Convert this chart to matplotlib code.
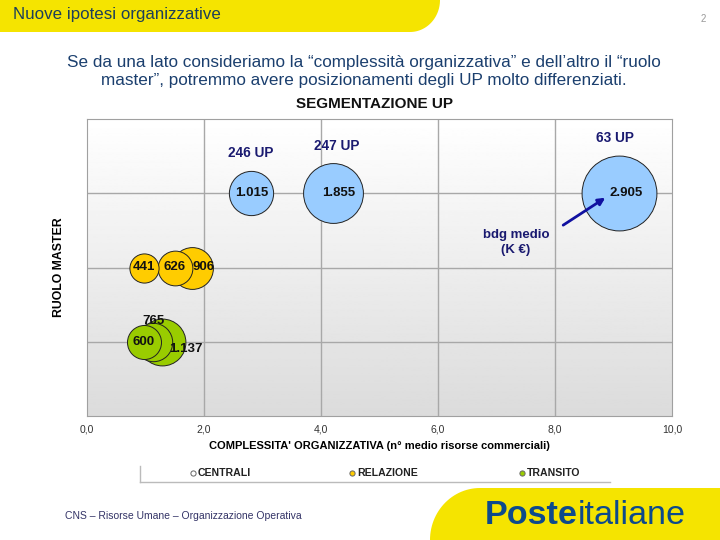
import matplotlib
matplotlib.use("Agg")
import matplotlib.pyplot as plt
import numpy as np
from matplotlib.patches import Polygon

plt.rcParams['font.family'] = ['Liberation Sans', 'DejaVu Sans']

# ---- data ----
segments = ["CENTRALI", "RELAZIONE", "TRANSITO"]
centrali_x = [2.8, 4.2, 9.1]
centrali_y = [3, 3, 3]
centrali_bdg = [1015, 1855, 2905]
centrali_up = ["246 UP", "247 UP", "63 UP"]

relazione_x = [0.97, 1.5, 1.8]
relazione_y = [2, 2, 2]
relazione_bdg = [441, 626, 906]

transito_x = [0.97, 1.13, 1.28]
transito_y = [1, 1, 1]
transito_bdg = [600, 765, 1137]

x_ticks = [0, 2, 4, 6, 8, 10]
x_ticklabels = ["0,0", "2,0", "4,0", "6,0", "8,0", "10,0"]

def fmt(v):
    return f"{v:,}".replace(",", ".")

fig = plt.figure(figsize=(7.2, 5.4), dpi=100)
W, H = 720, 540

def fx(px):
    return px / W

def fy(py):
    return 1 - py / H

# ---- header / footer shapes ----
bg = fig.add_axes([0, 0, 1, 1])
bg.set_xlim(0, W)
bg.set_ylim(H, 0)
bg.axis('off')
yellow = '#f5e400'
hdr = [(0, 0), (440, 0)]
for a in np.linspace(0, np.pi / 2, 30):
    hdr.append((410 + 30 * np.cos(a), 32 * np.sin(a)))
hdr.append((0, 32))
bg.add_patch(Polygon(hdr, closed=True, color=yellow, lw=0))
ftr = [(720, 488), (720, 540), (430, 540)]
for a in np.linspace(np.pi, np.pi / 2, 30):
    ftr.append((480 + 50 * np.cos(a), 540 - 52 * np.sin(a)))
bg.add_patch(Polygon(ftr, closed=True, color=yellow, lw=0))

fig.text(fx(13), fy(15), "Nuove ipotesi organizzative", fontsize=12.2, color='#1d3f5a', va='center', ha='left')
fig.text(fx(703), fy(19), "2", fontsize=7, color='#999999', va='center', ha='center')
fig.text(fx(364), fy(62), "Se da una lato consideriamo la “complessità organizzativa” e dell’altro il “ruolo",
         fontsize=12.3, color='#1b3f6e', ha='center', va='center')
fig.text(fx(364), fy(80), "master”, potremmo avere posizionamenti degli UP molto differenziati.",
         fontsize=12.3, color='#1b3f6e', ha='center', va='center')
fig.text(fx(375), fy(104), "SEGMENTAZIONE UP", fontsize=11, fontweight='bold', color='#111111', ha='center', va='center')

fig.text(fx(65), fy(516), "CNS – Risorse Umane – Organizzazione Operativa", fontsize=7.5, color='#333366', ha='left', va='center')
logo1 = fig.text(fx(485), fy(515), "Poste", fontsize=24.6, fontweight='bold', color='#0d4a8c', ha='left', va='center')
fig.canvas.draw()
bb = logo1.get_window_extent()
fig.text(bb.x1 / W, fy(515), "italiane", fontsize=24.6, color='#0d4a8c', ha='left', va='center')

# ---- chart ----
ax = fig.add_axes([fx(87), fy(416), 585 / W, 297 / H])
ax.set_xlim(0, 10)
ax.set_ylim(0, 4)
grad = np.linspace(0.86, 1.0, 256).reshape(-1, 1)
ax.imshow(grad, extent=[0, 10, 0, 4], origin='lower', aspect='auto', cmap='gray', vmin=0, vmax=1, zorder=0)
for gx in [2, 4, 6, 8]:
    ax.axvline(gx, color='#a8a8a8', lw=1, zorder=1)
for gy in [1, 2, 3]:
    ax.axhline(gy, color='#a8a8a8', lw=1, zorder=1)
for s in ax.spines.values():
    s.set_color('#a0a0a0')
ax.set_yticks([])
ax.set_xticks(x_ticks)
ax.set_xticklabels(x_ticklabels, fontsize=7.5, color='#333333')
ax.tick_params(axis='x', length=0, pad=6)
ax.set_xlabel("COMPLESSITA' ORGANIZZATIVA (n° medio risorse commerciali)", fontsize=8, fontweight='bold')
ax.xaxis.set_label_coords(0.5, -0.085)
ax.set_ylabel("RUOLO MASTER", fontsize=8.8, fontweight='bold')
ax.yaxis.set_label_coords(-0.038, 0.5)

colors = {"CENTRALI": '#99ccff', "RELAZIONE": '#ffcc00', "TRANSITO": '#99cc00'}
series = [
    ("CENTRALI", centrali_x, centrali_y, centrali_bdg, [(1, 0), (4, 0), (5, 0)]),
    ("RELAZIONE", relazione_x, relazione_y, relazione_bdg, [(0, 0), (0, 0), (8, 0)]),
    ("TRANSITO", transito_x, transito_y, transito_bdg, [(0, 0), (0, 15), (17, -5)]),
]
for name, xs, ys, vals, offs in series:
    order = np.argsort(vals)[::-1]
    for k, i in enumerate(order):
        ax.scatter(xs[i], ys[i], s=vals[i] * 1.0, color=colors[name], edgecolor='#222222', lw=0.7, zorder=3 + k)
    for i in range(len(xs)):
        ax.annotate(fmt(vals[i]), (xs[i], ys[i]), xytext=offs[i], textcoords='offset points',
                    ha='center', va='center', fontsize=9.5, fontweight='bold', color='#111111', zorder=10)

up_offs = [(0, 29), (3, 34), (-3, 40)]
for i in range(len(centrali_x)):
    ax.annotate(centrali_up[i], (centrali_x[i], centrali_y[i]), xytext=up_offs[i], textcoords='offset points',
                ha='center', va='center', fontsize=9.8, fontweight='bold', color='#1a1a70', zorder=10)

ax.text(7.33, 2.34, "bdg medio\n(K €)", fontsize=9.5, fontweight='bold', color='#1a1a70', ha='center', va='center',
        linespacing=1.3, zorder=10)
ax.annotate("", xy=(8.9, 2.96), xytext=(8.1, 2.55),
            arrowprops=dict(arrowstyle='-|>', color='#1010a0', lw=2, mutation_scale=10), zorder=10)

# ---- legend ----
bg.plot([140, 610], [482, 482], color='#bbbbbb', lw=1)
bg.plot([140, 140], [466, 482], color='#bbbbbb', lw=1)
leg_x = [193, 352, 522]
for name, lx in zip(segments, leg_x):
    fc = 'white' if name == "CENTRALI" else colors[name]
    bg.scatter(lx, 473, s=14, facecolor=fc, edgecolor='#666666', lw=0.7)
    bg.text(lx + 5, 473, name, fontsize=7.6, fontweight='bold', color='#222222', ha='left', va='center')

fig.savefig("out.png", dpi=100)
